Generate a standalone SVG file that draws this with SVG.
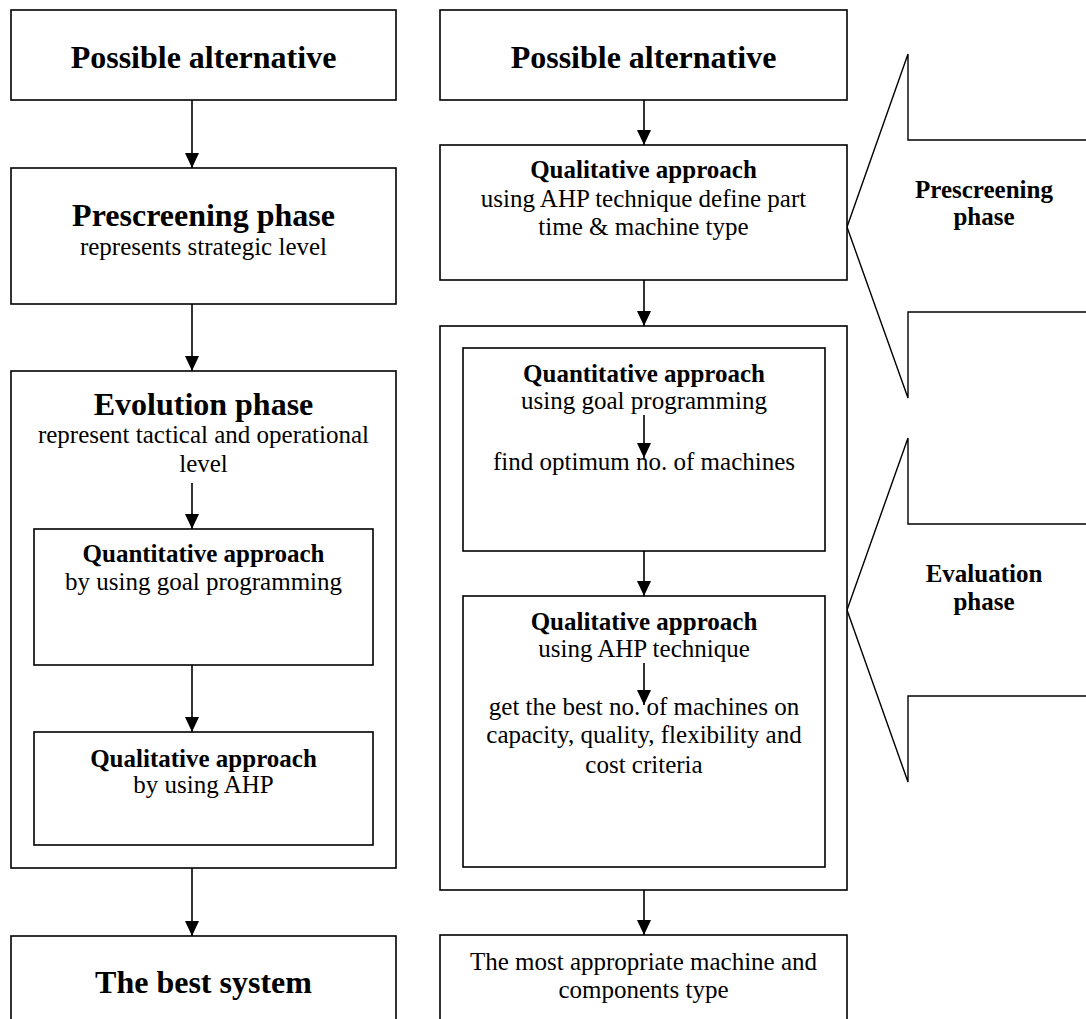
<svg xmlns="http://www.w3.org/2000/svg" width="1086" height="1019" viewBox="0 0 1086 1019">
<style>
.box{fill:#fff;stroke:#000;stroke-width:1.6}
.call{fill:#fff;stroke:#000;stroke-width:1.4}
.t{font-family:"Liberation Serif","Times New Roman",serif;fill:#000;text-anchor:middle}
.b32{font-size:32px;font-weight:bold}
.b25{font-size:25px;font-weight:bold}
.r25{font-size:25px}
.con{stroke:#000;stroke-width:1.6;fill:none}
</style>
<defs>
<marker id="arr" markerUnits="userSpaceOnUse" markerWidth="16" markerHeight="14" refX="15" refY="7" orient="auto" viewBox="0 0 16 14">
<path d="M0,0 L15,7 L0,14 Z" fill="#000"/>
</marker>
</defs>
<rect width="1086" height="1019" fill="#fff"/>

<g id="callout-prescreening">
<polygon class="call" points="847,227 908,54 908,140 1100,140 1100,312 908,312 908,398"/>
<text class="t b25" x="984" y="198">Prescreening</text>
<text class="t b25" x="984" y="225">phase</text>
</g>
<g id="callout-evaluation">
<polygon class="call" points="847,610 908,438 908,524 1100,524 1100,696 908,696 908,782"/>
<text class="t b25" x="984" y="582">Evaluation</text>
<text class="t b25" x="984" y="610">phase</text>
</g>

<g id="left-possible">
<rect class="box" x="11" y="10" width="385" height="90"/>
<text class="t b32" x="203.5" y="68">Possible alternative</text>
</g>
<g id="left-prescreening">
<rect class="box" x="11" y="168" width="385" height="136"/>
<text class="t b32" x="203.5" y="226">Prescreening phase</text>
<text class="t r25" x="203.5" y="255">represents strategic level</text>
</g>
<g id="left-evolution">
<rect class="box" x="11" y="371" width="385" height="497"/>
<text class="t b32" x="203.5" y="415">Evolution phase</text>
<text class="t r25" x="203.5" y="443">represent tactical and operational</text>
<text class="t r25" x="203.5" y="472">level</text>
</g>
<g id="left-quantitative">
<rect class="box" x="34" y="529" width="339" height="136"/>
<text class="t b25" x="203.5" y="562">Quantitative approach</text>
<text class="t r25" x="203.5" y="590">by using goal programming</text>
</g>
<g id="left-qualitative">
<rect class="box" x="34" y="732" width="339" height="113"/>
<text class="t b25" x="203.5" y="767">Qualitative approach</text>
<text class="t r25" x="203.5" y="793">by using AHP</text>
</g>
<g id="left-best">
<rect class="box" x="11" y="936" width="385" height="100"/>
<text class="t b32" x="203.5" y="993">The best system</text>
</g>

<g id="right-possible">
<rect class="box" x="440" y="10" width="407" height="90"/>
<text class="t b32" x="643.5" y="68">Possible alternative</text>
</g>
<g id="right-qualitative-1">
<rect class="box" x="440" y="145" width="407" height="135"/>
<text class="t b25" x="643.5" y="178">Qualitative approach</text>
<text class="t r25" x="643.5" y="207">using AHP technique define part</text>
<text class="t r25" x="643.5" y="235">time &amp; machine type</text>
</g>
<g id="right-evaluation">
<rect class="box" x="440" y="326" width="407" height="564"/>
</g>
<g id="right-quantitative">
<rect class="box" x="463" y="348" width="362" height="203"/>
<text class="t b25" x="644" y="382">Quantitative approach</text>
<text class="t r25" x="644" y="409">using goal programming</text>
<text class="t r25" x="644" y="470">find optimum no. of machines</text>
</g>
<g id="right-qualitative-2">
<rect class="box" x="463" y="596" width="362" height="271"/>
<text class="t b25" x="644" y="630">Qualitative approach</text>
<text class="t r25" x="644" y="657">using AHP technique</text>
<text class="t r25" x="644" y="715">get the best no. of machines on</text>
<text class="t r25" x="644" y="743">capacity, quality, flexibility and</text>
<text class="t r25" x="644" y="773">cost criteria</text>
</g>
<g id="right-result">
<rect class="box" x="440" y="935" width="407" height="100"/>
<text class="t r25" x="643.5" y="970">The most appropriate machine and</text>
<text class="t r25" x="643.5" y="998">components type</text>
</g>

<g id="connectors">
<line class="con" x1="192" y1="100" x2="192" y2="168" marker-end="url(#arr)"/>
<line class="con" x1="192" y1="304" x2="192" y2="371" marker-end="url(#arr)"/>
<line class="con" x1="192" y1="483" x2="192" y2="529" marker-end="url(#arr)"/>
<line class="con" x1="192" y1="665" x2="192" y2="732" marker-end="url(#arr)"/>
<line class="con" x1="192" y1="868" x2="192" y2="936" marker-end="url(#arr)"/>
<line class="con" x1="644" y1="100" x2="644" y2="145" marker-end="url(#arr)"/>
<line class="con" x1="644" y1="280" x2="644" y2="326" marker-end="url(#arr)"/>
<line class="con" x1="644" y1="415" x2="644" y2="458" marker-end="url(#arr)"/>
<line class="con" x1="644" y1="551" x2="644" y2="596" marker-end="url(#arr)"/>
<line class="con" x1="644" y1="663" x2="644" y2="705" marker-end="url(#arr)"/>
<line class="con" x1="644" y1="890" x2="644" y2="935" marker-end="url(#arr)"/>
</g>
</svg>
